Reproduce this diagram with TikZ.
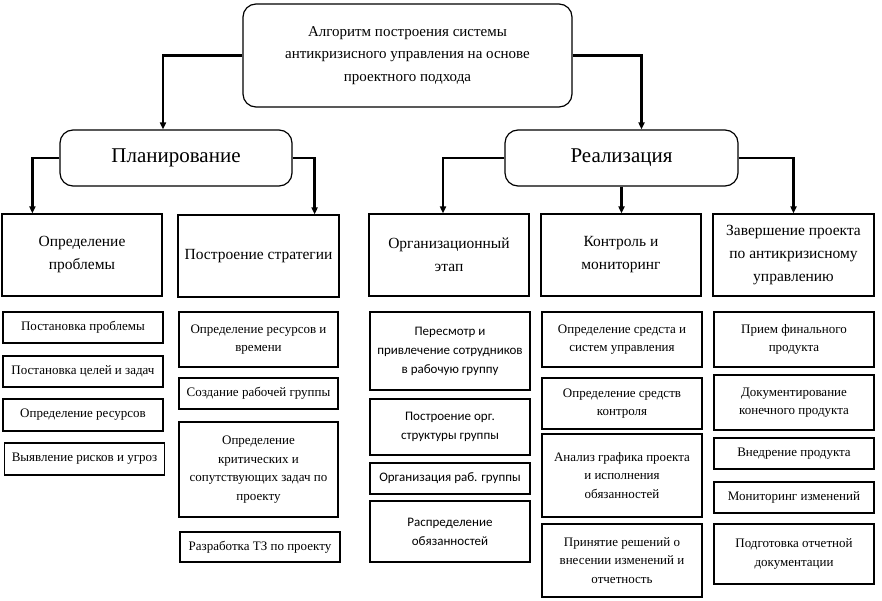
\documentclass[tikz,border=0pt]{standalone}
\usepackage{fontspec}
\setmainfont{Liberation Serif}
\newfontfamily\carlito{Carlito}
\usetikzlibrary{arrows.meta,calc}
\tikzset{
  box/.style={draw=black, line width=1.2pt, align=center, inner sep=1pt, fill=white},
  rbox/.style={box, rounded corners=13pt},
  lthree/.style={box, minimum width=160pt, font=\fontsize{13}{18.5}\selectfont},
  lthreesans/.style={box, minimum width=160pt, font=\carlito\fontsize{13}{19}\selectfont},
  ltwo/.style={box, minimum width=160pt, minimum height=82pt, font=\fontsize{15.5}{23}\selectfont},
  conn/.style={line width=2.4pt, -{Triangle[length=7pt,width=6pt]}}
}
\begin{document}
\begin{tikzpicture}[x=1pt,y=-1pt]
\useasboundingbox (0,0) rectangle (882,601);
% top
\node[rbox, minimum width=329pt, minimum height=103pt, font=\fontsize{15}{22.5}\selectfont] (top) at (407.5,55.5)
  {Алгоритм построения системы\\антикризисного управления на основе\\проектного подхода};
\node[rbox, minimum width=232pt, minimum height=56pt, font=\fontsize{21}{25}\selectfont] (plan) at (176,158) {Планирование};
\node[rbox, minimum width=233pt, minimum height=56pt, font=\fontsize{21}{25}\selectfont] (real) at (621.5,158) {Реализация};
% level 2
\node[ltwo] (p1) at (82,255) {Определение\\проблемы};
\node[ltwo, minimum width=161pt] (p2) at (258.5,256) {Построение стратегии};
\node[ltwo] (r1) at (449,255) {Организационный\\этап};
\node[ltwo] (r2) at (621,255) {Контроль и\\мониторинг};
\node[ltwo, minimum width=161pt] (r3) at (793.5,255) {Завершение проекта\\по антикризисному\\управлению};
% connectors
\draw[conn] (top.west) -| ($(plan.north)+(-13,0)$);
\draw[conn] (top.east) -| ($(real.north)+(20,0)$);
\draw[conn] (plan.west) -| ($(p1.north west)+(31,0)$);
\draw[conn] (plan.east) -| ($(p2.north east)+(-25,0)$);
\draw[conn] (real.west) -| ($(r1.north)+(-6,0)$);
\draw[conn] (real.south) -- (real.south |- r2.north);
\draw[conn] (real.east) -| (r3.north);
% level 3, column 1
\node[lthree, minimum height=31pt] (a1) at (83,327.5) {Постановка проблемы};
\node[lthree, minimum height=31pt] (a2) at (83,371.5) {Постановка целей и задач};
\node[lthree, minimum height=32pt] (a3) at (83,415) {Определение ресурсов};
\node[lthree, minimum height=32pt] (a4) at (84.5,459) {Выявление рисков и угроз};
% column 2
\node[lthree, minimum width=159pt, minimum height=55pt] (b1) at (258.5,339.5) {Определение ресурсов и\\времени};
\node[lthree, minimum width=159pt, minimum height=31pt] (b2) at (258.5,393.5) {Создание рабочей группы};
\node[lthree, minimum width=159pt, minimum height=95pt] (b3) at (258.5,469.5) {Определение\\критических и\\сопутствующих задач по\\проекту};
\node[lthree, minimum width=160pt, minimum height=30pt] (b4) at (260,547) {Разработка ТЗ по проекту};
% column 3
\node[lthreesans, minimum height=78pt] (c1) at (450,351) {Пересмотр и\\привлечение сотрудников\\в рабочую группу};
\node[lthreesans, minimum height=56pt] (c2) at (450,427) {Построение орг.\\структуры группы};
\node[lthreesans, minimum height=31pt] (c3) at (450,478.5) {Организация раб. группы};
\node[lthreesans, minimum height=61pt] (c4) at (450,531.5) {Распределение\\обязанностей};
% column 4
\node[lthree, minimum height=55pt] (d1) at (622,339.5) {Определение средста и\\систем управления};
\node[lthree, minimum height=51pt] (d2) at (622,403.5) {Определение средств\\контроля};
\node[lthree, minimum height=83pt] (d3) at (622,475.5) {Анализ графика проекта\\и исполнения\\обязанностей};
\node[lthree, minimum height=73pt] (d4) at (622,560.5) {Принятие решений о\\внесении изменений и\\отчетность};
% column 5
\node[lthree, minimum height=55pt] (e1) at (794,339.5) {Прием финального\\продукта};
\node[lthree, minimum height=55pt] (e2) at (794,402.5) {Документирование\\конечного продукта};
\node[lthree, minimum height=31pt] (e3) at (794,453.5) {Внедрение продукта};
\node[lthree, minimum height=31pt] (e4) at (794,497.5) {Мониторинг изменений};
\node[lthree, minimum height=60pt] (e5) at (794,554) {Подготовка отчетной\\документации};
\end{tikzpicture}
\end{document}
